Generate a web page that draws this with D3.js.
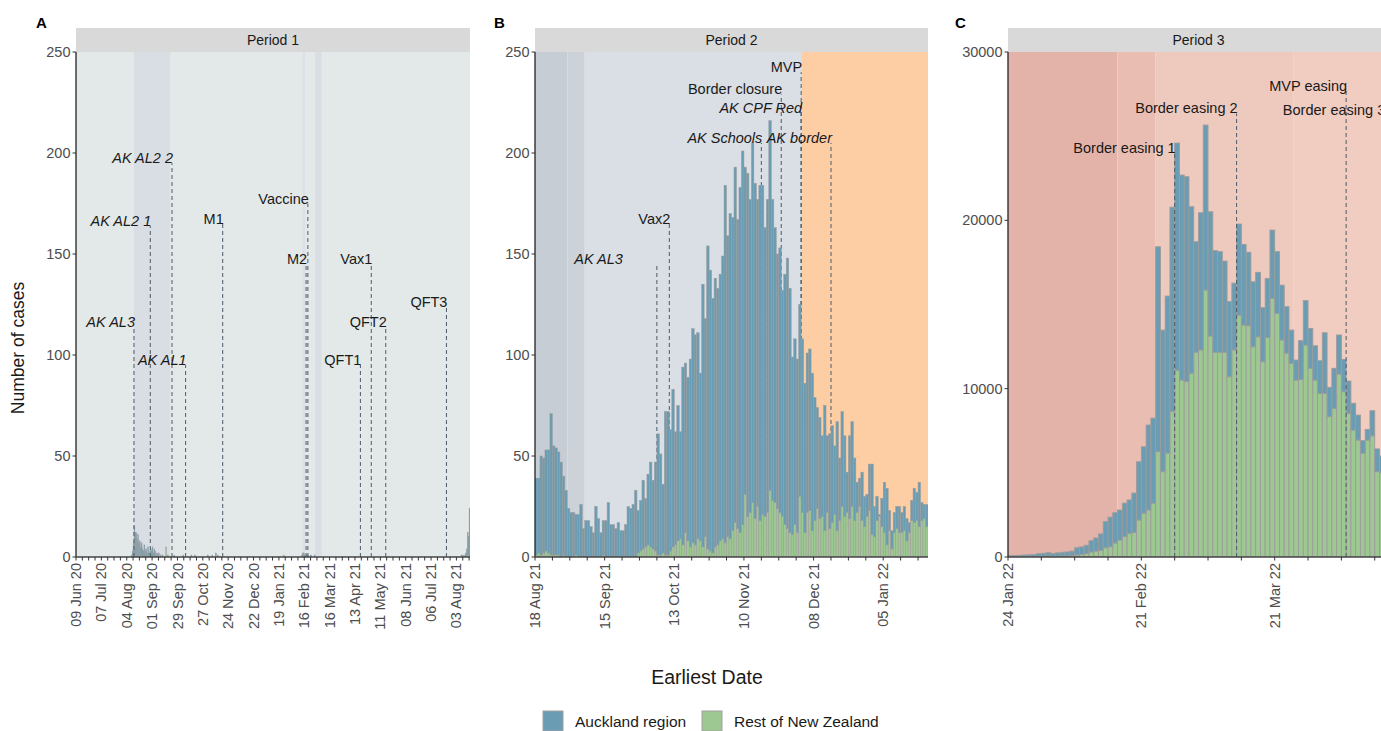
<!DOCTYPE html>
<html>
<head>
<meta charset="utf-8">
<script src="https://cdn.jsdelivr.net/npm/d3@7"></script>
<style>
body { margin: 0; background: #fff; }
text { font-family: "Liberation Sans", Arial, sans-serif; }
</style>
</head>
<body>
<div id="chart"></div>
<script>
var parseDate = d3.timeParse("%Y-%m-%d");
var tickFormat = d3.timeFormat("%d %b %y");

// ---- data ----
var regions = ["Auckland region", "Rest of New Zealand"];
var periodNames = ["Period 1", "Period 2", "Period 3"];
var periodStarts = ["2020-06-09", "2021-08-18", "2022-01-24"];
var periodEnds = ["2021-08-18", "2022-01-23", "2022-04-14"];

var yTicksSmall = [0, 50, 100, 150, 200, 250];
var yTicksLarge = [0, 10000, 20000, 30000];

// period 1: only the days that had cases
var p1Dates = ["2020-08-09","2020-08-10","2020-08-11","2020-08-12","2020-08-13","2020-08-14","2020-08-15","2020-08-16","2020-08-17","2020-08-18",
  "2020-08-19","2020-08-20","2020-08-21","2020-08-22","2020-08-23","2020-08-24","2020-08-25","2020-08-26","2020-08-27","2020-08-28",
  "2020-08-29","2020-08-30","2020-08-31","2020-09-01","2020-09-02","2020-09-03","2020-09-04","2020-09-05","2020-09-06","2020-09-07",
  "2020-09-08","2020-09-10","2020-09-12","2020-09-16","2020-09-18","2020-09-25","2020-10-05","2020-10-14","2020-10-18","2020-11-01",
  "2020-11-06","2020-11-10","2020-11-12","2021-01-24","2021-02-13","2021-02-14","2021-02-15","2021-02-16","2021-02-18","2021-02-20",
  "2021-02-23","2021-02-27","2021-08-08","2021-08-10","2021-08-12","2021-08-13","2021-08-14","2021-08-15","2021-08-16","2021-08-17"];
var p1Auckland = [1,3,7,15,11,12,8,11,7,8, 5,6,4,3,6,3,4,2,5,3, 2,4,3,5,2,4,3,1,2,1,
  2,1,1,0,1,1,1,1,1,1, 1,1,1,0,1,2,2,1,1,1, 1,1,1,1,1,2,4,11,9,24];
var p1Rest = [0,0,0,0,1,0,1,0,0,0, 0,1,0,0,0,0,0,0,0,0, 0,0,0,0,0,0,0,0,0,0,
  0,0,0,5,0,0,0,0,0,0, 0,1,0,1,0,0,0,0,0,0, 0,0,0,0,0,0,0,1,1,0];

// period 2: daily from 18 Aug 21
var p2Auckland = [38,37,49,47,50,51,70,54,53,51, 47,39,33,24,22,22,20,21,26,14,
  18,18,15,12,25,19,12,17,18,27, 16,16,14,17,13,13,16,25,24,26,
  33,21,25,34,24,35,42,34,44,60, 50,34,71,71,60,78,56,67,53,88,
  84,81,93,106,104,102,83,130,108,150, 139,126,133,127,132,140,177,149,161,155,
  176,153,171,185,162,170,155,178,166,152, 166,163,143,155,183,149,136,126,131,112,
  124,134,121,88,92,86,95,86,74,79, 80,78,61,50,50,40,62,38,47,48,
  34,54,31,47,40,20,41,42,31,15, 14,24,15,11,23,35,15,12,1,14,
  25,28,10,9,10,11,13,10,12,11, 5,10,17,14,22,9,7,11];
var p2Rest = [1,2,1,2,3,2,1,1,1,1, 0,1,0,0,0,0,1,0,0,0,
  0,0,0,0,0,0,0,1,0,0, 0,0,0,0,0,0,0,0,0,0,
  0,2,3,4,5,6,5,4,3,1, 1,2,1,1,3,5,6,8,9,6,
  12,8,5,7,6,9,8,5,10,4, 3,2,5,6,8,9,7,10,9,13,
  17,14,12,16,31,20,22,27,19,25, 18,21,20,22,33,28,27,24,22,20,
  16,14,12,11,16,12,30,22,12,22, 23,13,18,24,19,20,13,22,14,17,
  21,13,18,25,20,22,19,25,18,22, 25,18,15,20,23,11,10,18,20,15,
  12,6,13,4,12,14,12,12,13,8, 12,18,17,18,15,18,19,15];

// period 3: daily from 24 Jan 22
var p3Auckland = [75,85,90,110,115,125,180,195,230,170,
  210,230,240,270,430,450,500,670,780,970,
  1550,1760,1800,1780,1990,1980,2350,3460,3950,5050,
  5050,12170,8410,9330,12140,13490,12180,12170,9890,6570,
  8150,9800,7380,6040,5980,5420,4460,3970,5410,4790,
  4360,3860,3830,3210,3510,4060,3670,3260,2770,1980,
  1190,2300,2640,2370,2040,1940,3600,1740,2380,2320,
  1920,1920,1590,1480,750,630,1490,1350,1000];
var p3Rest = [5,5,10,10,15,15,20,25,30,30,
  40,50,60,80,120,150,200,300,350,400,
  550,610,830,1010,1210,1410,1450,2200,2600,2790,
  3200,6260,5070,6170,8640,11100,10510,10420,10920,12160,
  12300,15860,13130,12160,12160,12160,10710,12300,14370,13780,
  13740,12490,13080,11600,13040,15360,14470,12890,12100,11500,
  10510,10550,12590,11210,10510,9720,9720,8340,8830,10870,
  9820,8530,7540,6950,6160,6950,7200,5070,5000];

// alert level / setting periods (background shading)
var p1BandStarts = ["2020-06-09", "2020-08-12", "2021-02-14", "2021-02-28"];
var p1BandEnds = ["2021-08-18", "2020-09-21", "2021-02-17", "2021-03-07"];
var p2BandStarts = ["2021-08-18", "2021-08-31", "2021-09-07", "2021-12-03"];
var p2BandEnds = ["2021-08-31", "2021-09-07", "2021-12-03", "2022-01-23"];
var p3BandStarts = ["2022-01-24", "2022-02-16", "2022-02-24", "2022-03-25"];
var p3BandEnds = ["2022-02-16", "2022-02-24", "2022-03-25", "2022-04-14"];

// events
var p1EventLabels = ["AK AL3", "AK AL2 1", "AK AL2 2", "AK AL1", "M1", "M2", "Vaccine", "QFT1", "Vax1", "QFT2", "QFT3"];
var p1EventDates = ["2020-08-12", "2020-08-30", "2020-09-23", "2020-10-08", "2020-11-18", "2021-02-18", "2021-02-20", "2021-04-19", "2021-05-01", "2021-05-17", "2021-07-23"];
var p1EventHeights = [114, 164, 195, 95, 165, 145, 175, 95, 145, 114, 124];

var p2EventLabels = ["AK AL3", "Vax2", "AK Schools", "Border closure", "AK CPF Red", "MVP", "AK border"];
var p2EventDates = ["2021-10-06", "2021-10-11", "2021-11-17", "2021-11-25", "2021-12-03", "2021-12-03", "2021-12-15"];
var p2EventHeights = [145, 165, 205, 229, 220, 240, 205];

var p3EventLabels = ["Border easing 1", "Border easing 2", "MVP easing", "Border easing 3"];
var p3EventDates = ["2022-02-28", "2022-03-13", "2022-04-05", "2022-04-13"];
var p3EventHeights = [23980, 26350, 27700, 26230];

// ---- styles ----
var colAuck = "#6a9db3", colRest = "#9ec892", barEdge = "#9c9c9c";
var eventColor = "#4b5b6b";
var p1BandFills = ["#e3e9e8", "#d9dde4", "#dde1e7", "#d9dde4"];
var p2BandFills = ["#c6cdd4", "#cdd2d9", "#dadee5", "#fdcda4"];
var p3BandFills = ["#e3b3a9", "#e9bdb1", "#eec9be", "#f0ccc1"];
var p2LabelShift = [-35, 0, 0, 0, 0, 0, 0];

var plotTop = 52, plotBottom = 557;

var svg = d3.select("#chart").append("svg")
    .attr("width", 1381)
    .attr("height", 731);

function dailyRows(start, auck, rest) {
    var s = parseDate(start);
    return auck.map(function(v, i) {
        return { date: d3.timeDay.offset(s, i), auck: v, rest: rest[i] };
    });
}

function eventRows(labels, dates, heights, shifts) {
    return labels.map(function(l, i) {
        return { label: l, date: parseDate(dates[i]), h: heights[i], shift: shifts ? shifts[i] : 0 };
    });
}

function bandRows(starts, ends, fills) {
    return starts.map(function(s, i) {
        return { start: parseDate(s), end: parseDate(ends[i]), fill: fills[i] };
    });
}

var panels = [
    { id: "A", left: 76, right: 470, letterX: 36, yMax: 250, yTicks: yTicksSmall, edge: 0.4,
      rows: p1Dates.map(function(d, i) { return { date: parseDate(d), auck: p1Auckland[i], rest: p1Rest[i] }; }),
      bands: bandRows(p1BandStarts, p1BandEnds, p1BandFills),
      events: eventRows(p1EventLabels, p1EventDates, p1EventHeights), linesOnTop: true },
    { id: "B", left: 535, right: 928, letterX: 494, yMax: 250, yTicks: yTicksSmall, edge: 0.5,
      rows: dailyRows(periodStarts[1], p2Auckland, p2Rest),
      bands: bandRows(p2BandStarts, p2BandEnds, p2BandFills),
      events: eventRows(p2EventLabels, p2EventDates, p2EventHeights, p2LabelShift), linesOnTop: false },
    { id: "C", left: 1008, right: 1389, letterX: 955, yMax: 30000, yTicks: yTicksLarge, edge: 0.9,
      rows: dailyRows(periodStarts[2], p3Auckland, p3Rest),
      bands: bandRows(p3BandStarts, p3BandEnds, p3BandFills),
      events: eventRows(p3EventLabels, p3EventDates, p3EventHeights), linesOnTop: true }
];

function drawEvents(layer, p, x, y) {
    var ev = layer.append("g");
    ev.selectAll("line").data(p.events).enter().append("line")
        .attr("x1", function(d) { return x(d.date); })
        .attr("x2", function(d) { return x(d.date); })
        .attr("y1", y(0))
        .attr("y2", function(d) { return y(d.h); })
        .attr("stroke", eventColor)
        .attr("stroke-width", 1)
        .attr("stroke-dasharray", "4,3");
}

panels.forEach(function(p, pi) {
    var start = parseDate(periodStarts[pi]);
    var end = parseDate(periodEnds[pi]);
    var x = d3.scaleTime().domain([start, end]).range([p.left, p.right]);
    var y = d3.scaleLinear().domain([0, p.yMax]).range([plotBottom, plotTop]);
    var g = svg.append("g");

    svg.append("clipPath").attr("id", "clip" + p.id)
        .append("rect")
        .attr("x", p.left).attr("y", plotTop)
        .attr("width", p.right - p.left).attr("height", plotBottom - plotTop);

    var plot = g.append("g").attr("clip-path", "url(#clip" + p.id + ")");

    plot.selectAll("rect.band").data(p.bands).enter().append("rect")
        .attr("class", "band")
        .attr("x", function(d) { return x(d.start); })
        .attr("width", function(d) { return x(d.end) - x(d.start); })
        .attr("y", plotTop)
        .attr("height", plotBottom - plotTop)
        .attr("fill", function(d) { return d.fill; });

    if (!p.linesOnTop) drawEvents(plot, p, x, y);

    var series = d3.stack().keys(["rest", "auck"])(p.rows);
    plot.selectAll("g.series").data(series).enter().append("g")
        .attr("fill", function(d) { return d.key === "auck" ? colAuck : colRest; })
        .selectAll("rect")
        .data(function(d) { return d.filter(function(s) { return s[1] > s[0]; }); })
        .enter().append("rect")
        .attr("x", function(d) { return x(d.data.date); })
        .attr("width", function(d) { return x(d3.timeDay.offset(d.data.date, 1)) - x(d.data.date); })
        .attr("y", function(d) { return y(d[1]); })
        .attr("height", function(d) { return y(d[0]) - y(d[1]); })
        .attr("stroke", barEdge)
        .attr("stroke-width", p.edge);

    if (p.linesOnTop) drawEvents(plot, p, x, y);

    // event labels
    g.append("g").attr("clip-path", "url(#clip" + p.id + ")")
        .selectAll("text").data(p.events).enter().append("text")
        .attr("x", function(d) { return x(d.date) + 1 + d.shift; })
        .attr("y", function(d) { return y(d.h); })
        .attr("text-anchor", "end")
        .attr("font-size", "14.5px")
        .attr("fill", "#1a1a1a")
        .attr("font-style", function(d) { return /^AK /.test(d.label) ? "italic" : "normal"; })
        .text(function(d) { return d.label; });

    // strip
    g.append("rect")
        .attr("x", p.left).attr("y", 28)
        .attr("width", p.right - p.left).attr("height", plotTop - 28)
        .attr("fill", "#d9d9d9");
    g.append("text")
        .attr("x", (p.left + p.right) / 2).attr("y", 45)
        .attr("text-anchor", "middle")
        .attr("font-size", "14px")
        .attr("fill", "#1a1a1a")
        .text(periodNames[pi]);

    // panel letter
    g.append("text")
        .attr("x", p.letterX).attr("y", 28)
        .attr("font-size", "15px")
        .attr("font-weight", "bold")
        .text(p.id);

    // y axis
    g.append("line")
        .attr("x1", p.left).attr("x2", p.left)
        .attr("y1", plotTop).attr("y2", plotBottom)
        .attr("stroke", "#222").attr("stroke-width", 1.3);
    var yt = g.append("g").selectAll("g").data(p.yTicks).enter().append("g");
    yt.append("line")
        .attr("x1", p.left - 3.5).attr("x2", p.left)
        .attr("y1", function(d) { return y(d); }).attr("y2", function(d) { return y(d); })
        .attr("stroke", "#333").attr("stroke-width", 1);
    yt.append("text")
        .attr("x", p.left - 5.5)
        .attr("y", function(d) { return y(d); })
        .attr("dy", "0.35em")
        .attr("text-anchor", "end")
        .attr("font-size", "14.5px")
        .attr("fill", "#4d4d4d")
        .text(function(d) { return d; });

    // x axis
    g.append("line")
        .attr("x1", p.left).attr("x2", Math.min(p.right, 1381))
        .attr("y1", plotBottom).attr("y2", plotBottom)
        .attr("stroke", "#444").attr("stroke-width", 1.4);
    var nDays = d3.timeDay.count(start, end);
    var weeks = d3.range(0, nDays, 7).map(function(k) { return { k: k, date: d3.timeDay.offset(start, k) }; });
    var xt = g.append("g").selectAll("g").data(weeks).enter().append("g");
    xt.append("line")
        .attr("x1", function(d) { return x(d.date); }).attr("x2", function(d) { return x(d.date); })
        .attr("y1", plotBottom).attr("y2", plotBottom + 3.5)
        .attr("stroke", "#333").attr("stroke-width", 1);
    xt.filter(function(d) { return d.k % 28 === 0; })
        .append("text")
        .attr("transform", function(d) { return "translate(" + x(d.date) + "," + (plotBottom + 6) + ") rotate(-90)"; })
        .attr("dy", "0.35em")
        .attr("text-anchor", "end")
        .attr("font-size", "14.5px")
        .attr("fill", "#4d4d4d")
        .text(function(d) { return tickFormat(d.date); });
});

// axis titles
svg.append("text")
    .attr("transform", "translate(24,348) rotate(-90)")
    .attr("text-anchor", "middle")
    .attr("font-size", "17.5px")
    .attr("fill", "#1a1a1a")
    .text("Number of cases");

svg.append("text")
    .attr("x", 707).attr("y", 684)
    .attr("text-anchor", "middle")
    .attr("font-size", "19.5px")
    .attr("fill", "#1a1a1a")
    .text("Earliest Date");

// legend
var legendX = [543, 702];
var legendFill = [colAuck, colRest];
var lg = svg.append("g").selectAll("g").data(regions).enter().append("g");
lg.append("rect")
    .attr("x", function(d, i) { return legendX[i]; })
    .attr("y", 711).attr("width", 20).attr("height", 20)
    .attr("fill", function(d, i) { return legendFill[i]; })
    .attr("stroke", "#a0a0a0").attr("stroke-width", 1);
lg.append("text")
    .attr("x", function(d, i) { return legendX[i] + 32; })
    .attr("y", 727)
    .attr("font-size", "15.5px")
    .attr("fill", "#1a1a1a")
    .text(function(d) { return d; });
</script>
</body>
</html>
